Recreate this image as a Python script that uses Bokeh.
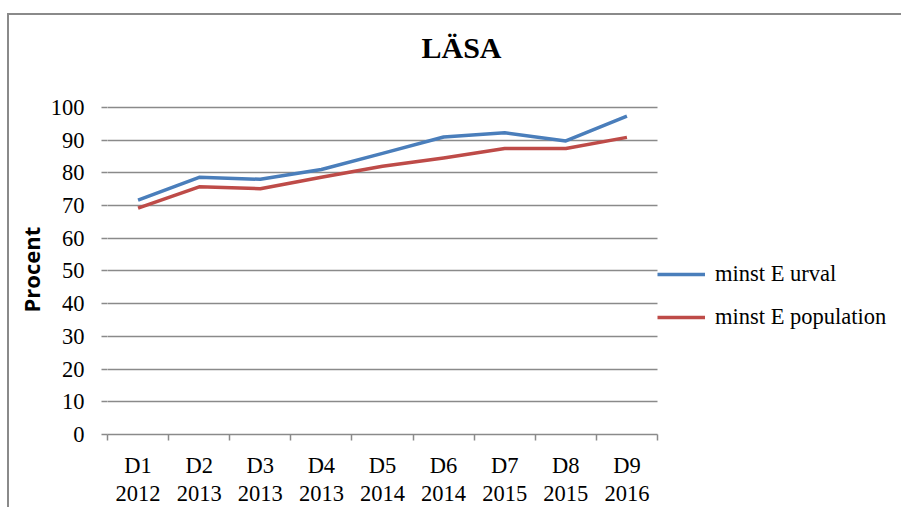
from bokeh.plotting import figure
from bokeh.models import Range1d, FixedTicker, Legend, LegendItem, Spacer, Label, Title, Grid
from bokeh.layouts import column, row
from bokeh.embed import file_html
from bokeh.resources import INLINE

# ---- data ----
categories = ["D1", "D2", "D3", "D4", "D5", "D6", "D7", "D8", "D9"]
years = ["2012", "2013", "2013", "2013", "2014", "2014", "2015", "2015", "2016"]
minst_e_urval = [71.6, 78.6, 78.0, 81.0, 85.9, 90.9, 92.2, 89.7, 97.3]
minst_e_population = [69.2, 75.7, 75.1, 78.6, 82.0, 84.5, 87.4, 87.4, 90.8]
y_ticks = [0, 10, 20, 30, 40, 50, 60, 70, 80, 90, 100]
series_names = ["minst E urval", "minst E population"]
chart_title = "LÄSA"
y_title = "Procent"

x = [i + 1 for i in range(len(categories))]
boundaries = [i + 0.5 for i in range(len(categories) + 1)]
n = len(categories)
y_max = y_ticks[-1]

SERIF = "Liberation Serif"
GRAY = "#8a8a8a"
FS = "22.5px"

# geometry (pixels)
W, H = 894, 494
LEFT, BOTTOM = 98, 74
PLOT_W, PLOT_H = 550, 328          # area occupied by the categories / 0..100
frame_w = W - LEFT
frame_h = H - BOTTOM

p = figure(width=W, height=H, output_backend="svg", toolbar_location=None,
           x_range=Range1d(0.5, 0.5 + n * frame_w / PLOT_W),
           y_range=Range1d(0, y_max * frame_h / PLOT_H),
           min_border_left=LEFT, min_border_right=0, min_border_top=0,
           min_border_bottom=BOTTOM)
p.outline_line_color = None
p.background_fill_color = "white"
p.border_fill_color = "white"

# horizontal grid limited to the category area
p.xgrid.visible = False
yg = p.ygrid[0]
yg.ticker = FixedTicker(ticks=y_ticks)
yg.grid_line_color = GRAY
yg.grid_line_width = 1.5
if "cross_bounds" in Grid.properties():
    yg.cross_bounds = (0.5, n + 0.5)
else:
    yg.visible = False
    p.segment(x0=[0.5] * len(y_ticks), x1=[n + 0.5] * len(y_ticks), y0=y_ticks, y1=y_ticks,
              line_color=GRAY, line_width=1.5)

# x axis
xa = p.xaxis[0]
xa.bounds = (0.5, n + 0.5)
xa.ticker = FixedTicker(ticks=x, minor_ticks=boundaries)
xa.major_label_overrides = {xi: f"{c}\n{yr}" for xi, c, yr in zip(x, categories, years)}
xa.major_tick_line_color = None
xa.minor_tick_line_color = GRAY
xa.minor_tick_line_width = 1.5
xa.minor_tick_out = 6
xa.minor_tick_in = 0
xa.axis_line_color = GRAY
xa.axis_line_width = 1.5
xa.major_label_text_font = SERIF
xa.major_label_text_font_size = FS
xa.major_label_text_color = "black"
xa.major_label_text_line_height = 1.15
xa.major_label_standoff = 12

# y axis
ya = p.yaxis[0]
ya.bounds = (0, y_max)
ya.ticker = FixedTicker(ticks=y_ticks, minor_ticks=[])
ya.axis_line_color = None
ya.major_tick_line_color = GRAY
ya.major_tick_line_width = 1.5
ya.major_tick_out = 6
ya.major_tick_in = 0
ya.minor_tick_line_color = None
ya.major_label_text_font = SERIF
ya.major_label_text_font_size = FS
ya.major_label_text_color = "black"
ya.major_label_standoff = 17

ytitle = Title(text=y_title, align="left", offset=122, standoff=4,
               text_font="Open Sans", text_font_style="bold", text_font_size="22px",
               text_color="black")
p.add_layout(ytitle, "left")

r1 = p.line(x, minst_e_urval, line_color="#4a7ebb", line_width=3.5, line_join="round")
r2 = p.line(x, minst_e_population, line_color="#be4b48", line_width=3.5, line_join="round")

legend = Legend(items=[LegendItem(label=series_names[0], renderers=[r1]),
                       LegendItem(label=series_names[1], renderers=[r2])],
                location=(PLOT_W, 104.5))
legend.label_text_font = SERIF
legend.label_text_font_size = FS
legend.label_text_color = "black"
legend.glyph_width = 48
legend.glyph_height = 20
legend.label_height = 20
legend.label_standoff = 10
legend.spacing = 17
legend.padding = 0
legend.margin = 0
legend.border_line_color = None
legend.background_fill_alpha = 0
p.add_layout(legend)

title = Label(x=354, y=387, x_units="screen", y_units="screen", text=chart_title,
              text_font=SERIF, text_font_style="bold", text_font_size="30px",
              text_align="center", text_baseline="alphabetic", text_color="black")
p.add_layout(title)

p.styles = {"border-top": f"2px solid {GRAY}", "border-left": f"2px solid {GRAY}"}

layout = row(Spacer(width=7), column(Spacer(height=13), p))
open("out.html", "w").write(file_html(layout, INLINE))
